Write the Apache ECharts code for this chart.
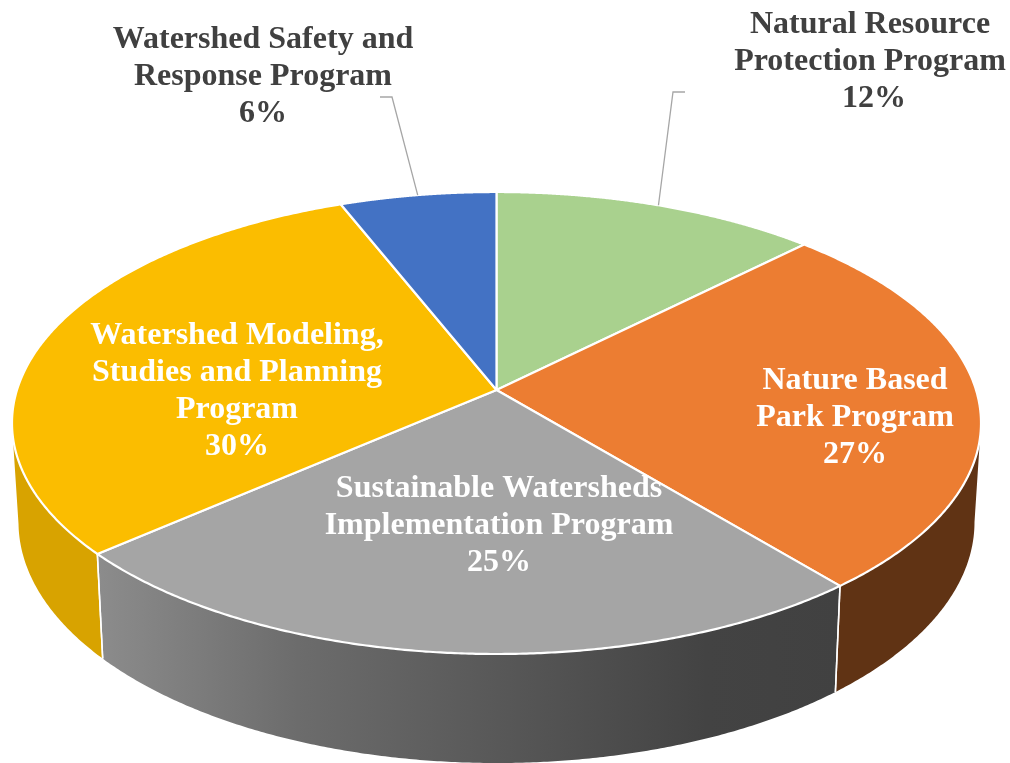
<!DOCTYPE html>
<html>
<head>
<meta charset="utf-8">
<style>html,body{margin:0;padding:0;background:#fff}#c{width:1010px;height:763px}</style>
<script src="https://cdn.jsdelivr.net/npm/echarts@6/dist/echarts.min.js"></script>
</head>
<body>
<div id="c"></div>
<script>
// Data, clockwise from 12 o'clock
var categories = [
  'Natural Resource\nProtection Program',
  'Nature Based\nPark Program',
  'Sustainable Watersheds\nImplementation Program',
  'Watershed Modeling,\nStudies and Planning\nProgram',
  'Watershed Safety and\nResponse Program'
];
var shares = [12.49, 26.51, 24.6, 30.4, 6.0];

// Styling
var topColors = ['#A9D18E', '#EC7D32', '#A5A5A5', '#FBBD00', '#4372C4'];
var labelColors = ['#404040', '#FFFFFF', '#FFFFFF', '#FFFFFF', '#404040'];
var labelCenters = [[870, 25], [855, 381], [499, 489], [237, 336], [263, 40]];
var percentNudgeX = [4, 0, 0, 0, 0];
var leaderElbows = [[[685, 92], [673, 92]], null, null, null, [[380, 97], [392, 97]]];
var LINE_H = 37;

// Perspective ellipse geometry
var TOP = {cx: 496.5, cy: 423, rx: 484.5, ry: 231};
var BOT = {cx: 496.5, cy: 522, rx: 478, ry: 241};
var APEX_SHIFT = -0.143;

var total = shares.reduce(function (a, b) { return a + b; }, 0);
var cum = [0];
shares.forEach(function (v, i) { cum.push(cum[i] + v); });
function angleAt(share) { return share / total * Math.PI * 2; }
// Projective map of the unit disc that carries the pie's centre to the apex
function norm(theta) {
  var x = Math.sin(theta), y = -Math.cos(theta), a = APEX_SHIFT, d = 1 + a * y;
  return [x * Math.sqrt(1 - a * a) / d, (y + a) / d];
}
function onEllipse(n, e) { return [e.cx + n[0] * e.rx, e.cy + n[1] * e.ry]; }
var apex = onEllipse([0, APEX_SHIFT], TOP);

function sliceNorms(i) {
  var a0 = angleAt(cum[i]), a1 = angleAt(cum[i + 1]), out = [], N = 240;
  for (var k = 0; k <= N; k++) out.push(norm(a0 + (a1 - a0) * k / N));
  return out;
}

var wallFills = [
  '#603314',
  '#603314',
  new echarts.graphic.LinearGradient(0, 0, 1, 0, [
    {offset: 0, color: '#8C8C8C'},
    {offset: 0.27, color: '#6C6C6C'},
    {offset: 0.54, color: '#585858'},
    {offset: 0.82, color: '#434343'},
    {offset: 1, color: '#414141'}
  ]),
  '#D8A300',
  '#2F5597'
];

function renderWall(params) {
  var i = params.dataIndex;
  var ns = sliceNorms(i).filter(function (n) { return n[1] >= 0; });
  if (ns.length < 2) return {type: 'group', children: []};
  var upper = ns.map(function (n) { return onEllipse(n, TOP); });
  var lower = ns.map(function (n) { return onEllipse(n, BOT); }).reverse();
  var children = [{
    type: 'polygon',
    shape: {points: upper.concat(lower)},
    style: {fill: wallFills[i], stroke: null}
  }];
  [ns[0], ns[ns.length - 1]].forEach(function (n) {
    children.push({
      type: 'line',
      z2: 5,
      shape: {x1: onEllipse(n, TOP)[0], y1: onEllipse(n, TOP)[1], x2: onEllipse(n, BOT)[0], y2: onEllipse(n, BOT)[1]},
      style: {stroke: '#FFFFFF', lineWidth: n[1] > 0.05 ? 1.5 : 0}
    });
  });
  return {type: 'group', children: children};
}

function renderTop(params) {
  var i = params.dataIndex;
  var pts = sliceNorms(i).map(function (n) { return onEllipse(n, TOP); });
  return {
    type: 'polygon',
    shape: {points: [apex].concat(pts)},
    style: {fill: topColors[i], stroke: '#FFFFFF', lineWidth: 2.2, lineJoin: 'round'}
  };
}

function renderLabel(params, api) {
  var i = params.dataIndex;
  var lines = categories[i].split('\n').concat([Math.round(api.value(0)) + '%']);
  var children = [];
  lines.forEach(function (t, k) {
    children.push({
      type: 'text',
      style: {
        text: t,
        x: labelCenters[i][0] + (k === lines.length - 1 ? percentNudgeX[i] : 0),
        y: labelCenters[i][1] + k * LINE_H,
        align: 'center',
        verticalAlign: 'middle',
        fill: labelColors[i],
        font: 'bold 32px "Liberation Serif", serif'
      }
    });
  });
  if (leaderElbows[i]) {
    var mid = onEllipse(norm(angleAt((cum[i] + cum[i + 1]) / 2)), TOP);
    children.push({
      type: 'polyline',
      shape: {points: leaderElbows[i].concat([mid])},
      style: {stroke: '#A6A6A6', lineWidth: 1.3, fill: null}
    });
  }
  return {type: 'group', children: children};
}

var seriesData = shares.map(function (v, i) {
  return {name: categories[i].replace(/\n/g, ' '), value: [v]};
});
function layer(fn, z) {
  return {
    type: 'custom', coordinateSystem: 'none', renderItem: fn, data: seriesData,
    silent: true, animation: false, z: z, clip: false
  };
}

var chart = echarts.init(document.getElementById('c'), null, {renderer: 'canvas'});
chart.setOption({
  backgroundColor: '#FFFFFF',
  animation: false,
  tooltip: {show: false},
  series: [layer(renderWall, 1), layer(renderTop, 2), layer(renderLabel, 3)]
});
</script>
</body>
</html>
